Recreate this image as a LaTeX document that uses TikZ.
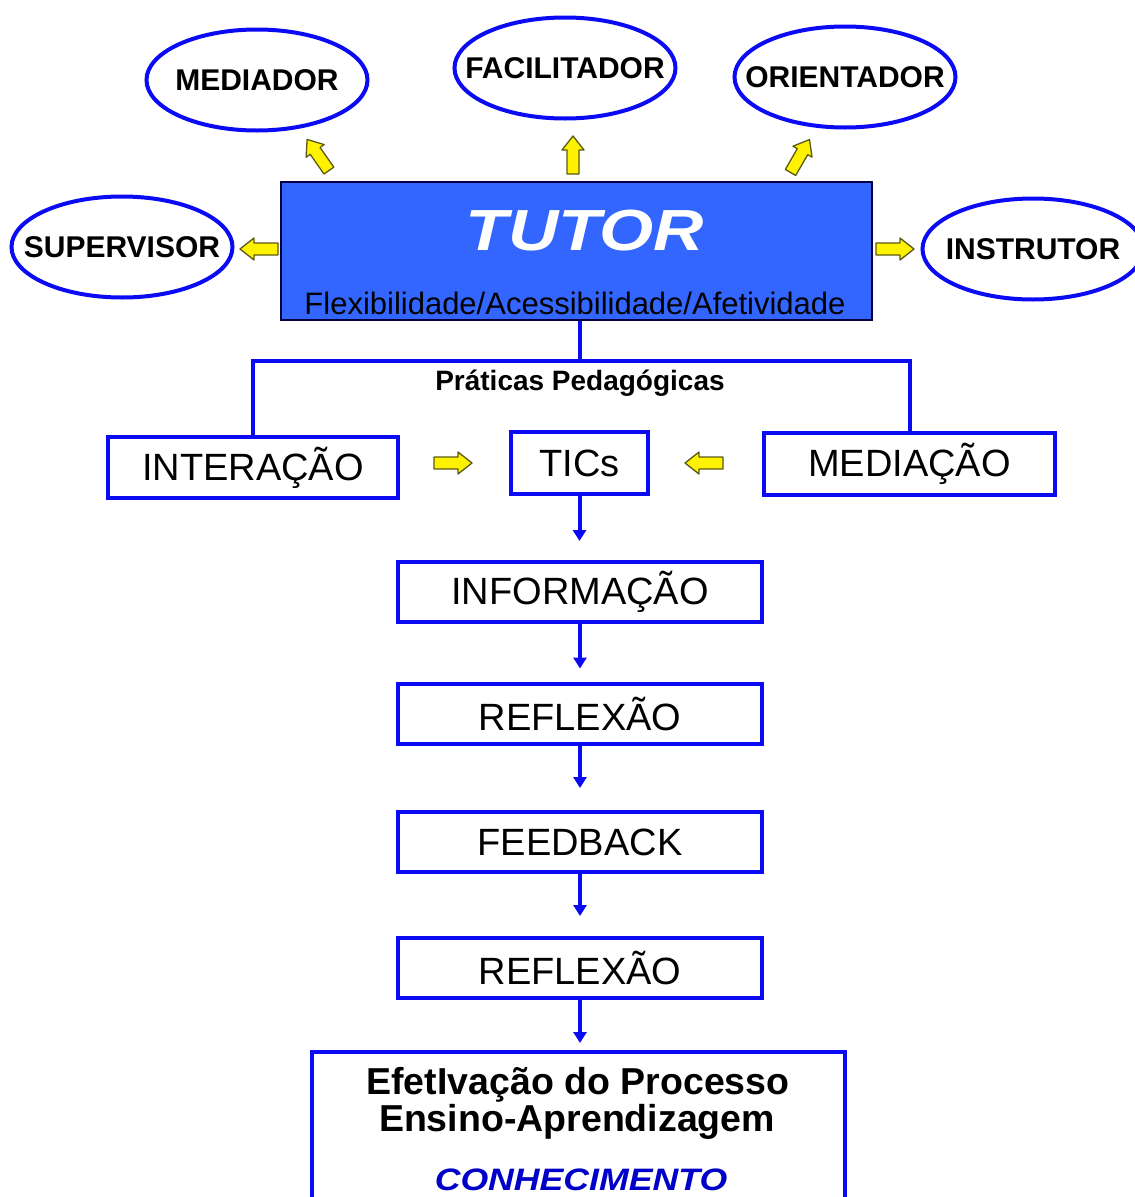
\documentclass[tikz,border=0pt]{standalone}
\usepackage{fontspec}
\setmainfont{Liberation Sans}
\usetikzlibrary{shapes.geometric,arrows.meta}
\definecolor{tutorblue}{RGB}{51,102,255}
\definecolor{lineblue}{RGB}{10,10,245}
\definecolor{darkblue}{RGB}{0,0,200}
\definecolor{arrowedge}{RGB}{90,90,20}
\newcommand\fsz[1]{\fontsize{#1}{#1}\selectfont}
\newcommand\olab[1]{\makebox[0pt]{#1}}
\tikzset{
  yarrow/.pic={\filldraw[fill=yellow, draw=arrowedge, line width=1.3pt, line join=round]
     (-19,-6) -- (5,-6) -- (5,-11) -- (19,0) -- (5,11) -- (5,6) -- (-19,6) -- cycle;},
  oval/.style={ellipse, draw=lineblue, line width=4pt, minimum width=221pt, minimum height=101pt,
     inner sep=0pt, font=\fsz{30}\bfseries},
  stepbox/.style={rectangle, draw=lineblue, line width=4pt, inner sep=0pt, font=\fsz{38}},
  wide/.style={stepbox, minimum width=364pt, minimum height=60pt},
  conn/.style={draw=lineblue, line width=4pt, line join=miter},
  flow/.style={conn, -{Triangle[width=13pt,length=11pt]}},
}
\begin{document}
\begin{tikzpicture}[x=1pt,y=-1pt]
\clip (0,0) rectangle (1135,1197);
\fill[white] (0,0) rectangle (1135,1197);

% roles
\node[oval] (medi) at (257,80) {\olab{MEDIADOR}};
\node[oval] (faci) at (565,68) {\olab{FACILITADOR}};
\node[oval] (orie) at (845,77) {\olab{ORIENTADOR}};
\node[oval] (supe) at (122,247) {\olab{SUPERVISOR}};
\node[oval] (inst) at (1033,249) {\olab{INSTRUTOR}};

% tutor
\node[rectangle, fill=tutorblue, draw=black!75!blue, line width=1.5pt,
      minimum width=591pt, minimum height=138pt, inner sep=0pt] (tutor) at (576.5,251) {};
\node[text=white, font=\fsz{58}\bfseries\itshape] (tt) at (585,231) {\scalebox{1.2}[1]{TUTOR}};
\node[font=\fsz{31}] (flex) at (575,303) {Flexibilidade/Acessibilidade/Afetividade};

% yellow arrows
\pic[rotate=125] at (318,155) {yarrow};
\pic[rotate=90] at (573,155) {yarrow};
\pic[rotate=60] at (800,156) {yarrow};
\pic[rotate=180] at (259,249) {yarrow};
\pic[rotate=0] at (895,249) {yarrow};
\pic[rotate=0] at (453,463) {yarrow};
\pic[rotate=180] at (704,463) {yarrow};

% practices
\node[stepbox, minimum width=290pt, minimum height=61pt] (inter) at (253,467.5) {INTERAÇÃO};
\node[stepbox, minimum width=137pt, minimum height=62pt] (tics) at (579.5,463) {TICs};
\node[stepbox, minimum width=291pt, minimum height=62pt] (medc) at (909.5,464) {MEDIAÇÃO};

\draw[conn] (tutor.south -| tics.north) -- ++(0,40) coordinate (j);
\draw[conn] (inter.north) |- (j) -| (medc.north);
\node[font=\fsz{28}\bfseries, anchor=base] (prat) at (580,390) {Práticas Pedagógicas};

% flow
\node[wide] (info) at (580,592) {INFORMAÇÃO};
\node[wide] (refl1) at (580,713.5) {REFLEXÃO};
\node[wide] (feed) at (580,842) {FEEDBACK};
\node[wide] (refl2) at (580,968) {REFLEXÃO};
\node[stepbox, minimum width=533pt, minimum height=170pt] (fin) at (578.5,1137) {};
\node[font=\fsz{37.5}\bfseries, anchor=base] (l1) at (578,1094) {EfetIvação do Processo};
\node[font=\fsz{37.5}\bfseries, anchor=base] (l2) at (577,1131) {Ensino-Aprendizagem};
\node[font=\fsz{31}\bfseries\itshape, text=darkblue, anchor=base] (kn) at (581,1190) {\scalebox{1.15}[1]{CONHECIMENTO}};

\draw[flow, shorten >=19pt] (tics.south) -- (tics.south |- info.north);
\draw[flow, shorten >=13pt] (info.south) -- (refl1.north);
\draw[flow, shorten >=22pt] (refl1.south) -- (feed.north);
\draw[flow, shorten >=20pt] (feed.south) -- (refl2.north);
\draw[flow, shorten >=7pt] (refl2.south) -- (refl2.south |- fin.north);
\end{tikzpicture}
\end{document}
